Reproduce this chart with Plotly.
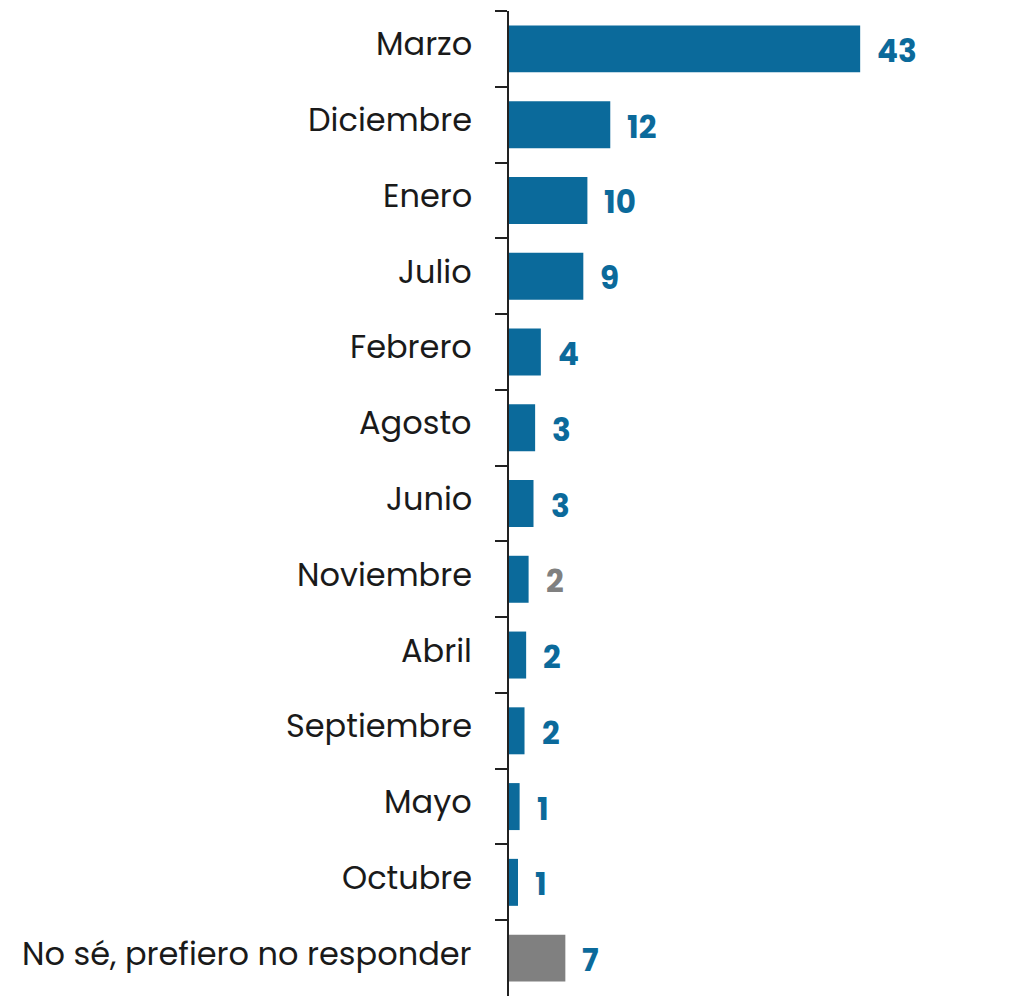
import plotly.graph_objects as go

months = ["Marzo", "Diciembre", "Enero", "Julio", "Febrero", "Agosto", "Junio",
          "Noviembre", "Abril", "Septiembre", "Mayo", "Octubre",
          "No sé, prefiero no responder"]
values = [43, 12.4, 9.6, 9.1, 3.9, 3.2, 3.0, 2.4, 2.1, 1.9, 1.3, 1.1, 6.9]
value_labels = ["43", "12", "10", "9", "4", "3", "3", "2", "2", "2", "1", "1", "7"]

BLUE = "#0b6a9b"
GRAY = "#808080"
FONT = "Poppins, Open Sans, sans-serif"

bar_colors = [BLUE] * 12 + [GRAY]
label_colors = [BLUE] * 13
label_colors[7] = GRAY

fig = go.Figure()
fig.add_trace(go.Bar(
    x=values, y=months, orientation="h",
    marker=dict(color=bar_colors, line=dict(width=0)),
    hoverinfo="skip",
))

for m, v, t, c in zip(months, values, value_labels, label_colors):
    fig.add_annotation(x=v, y=m, text="<b>" + t + "</b>", showarrow=False,
                       xanchor="left", xshift=15, yshift=-2,
                       font=dict(size=31, color=c, family=FONT))

# category names sit a little above the band centre in the original
for m in months:
    fig.add_annotation(x=0, xref="paper", y=m, text=m, showarrow=False,
                       xanchor="right", xshift=-35, yshift=5,
                       font=dict(size=32, color="#1a1a1a", family=FONT))

# stray vertical rule at bottom right of the original
fig.add_shape(type="line", xref="paper", yref="paper", x0=1.016, x1=1.016, y0=-0.01, y1=0.04,
              line=dict(color="#444", width=1.5))

# page body adds an 8px margin, so the figure is a bit smaller than the window
fig.update_layout(
    width=1002, height=991,
    margin=dict(l=501, r=11, t=3, b=3),
    plot_bgcolor="white", paper_bgcolor="white",
    showlegend=False,
    bargap=0.38,
    font=dict(family=FONT, color="#1a1a1a"),
    xaxis=dict(range=[0, 60], visible=False, fixedrange=True),
    yaxis=dict(
        autorange="reversed",
        showline=True, linecolor="#222", linewidth=1.5,
        ticks="outside", ticklen=12, tickcolor="#222", tickwidth=1.5,
        tickson="boundaries",
        showticklabels=False,
        showgrid=False,
    ),
)

fig.write_html("out.html")
